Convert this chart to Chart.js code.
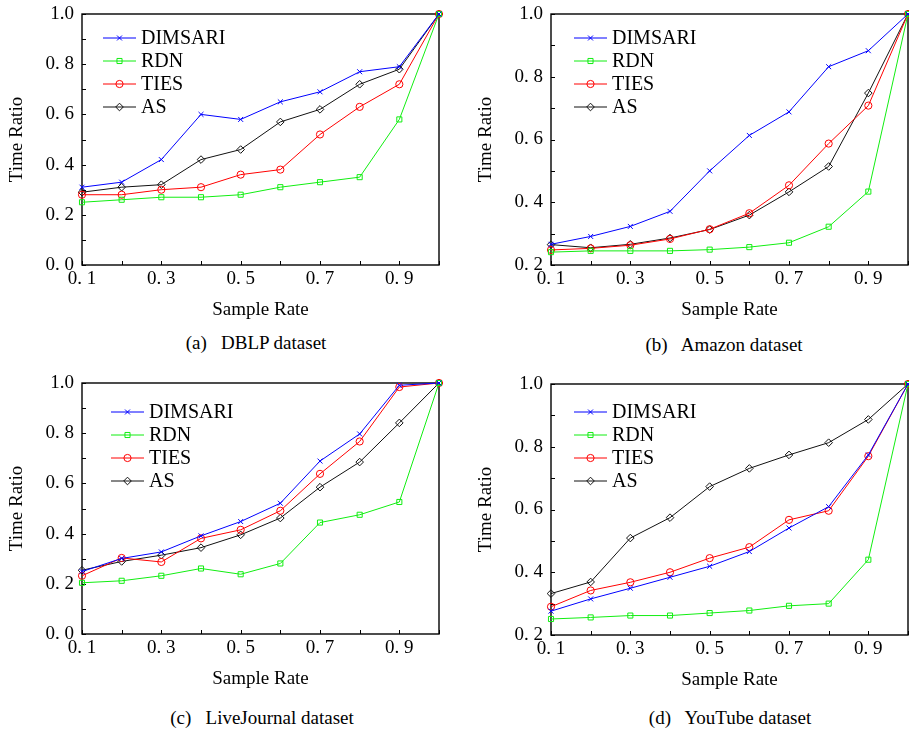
<!DOCTYPE html>
<html>
<head>
<meta charset="utf-8">
<title>Time Ratio vs Sample Rate</title>
<script src="https://cdn.jsdelivr.net/npm/chart.js@4.4.1/dist/chart.umd.min.js"></script>
<style>
  body { margin: 0; background: #fff; width: 909px; height: 730px; position: relative; overflow: hidden; font-family: "Liberation Serif", serif; }
  .panel { position: absolute; width: 455px; height: 325px; }
  .cap { position: absolute; font-size: 19px; line-height: 22px; white-space: pre; transform: translateX(-50%); color: #000; }
</style>
</head>
<body>
<div class="panel" style="left:0;top:0"><canvas id="chartA" width="455" height="325"></canvas></div>
<div class="panel" style="left:469px;top:0"><canvas id="chartB" width="455" height="325"></canvas></div>
<div class="panel" style="left:0;top:369px"><canvas id="chartC" width="455" height="325"></canvas></div>
<div class="panel" style="left:469px;top:370px"><canvas id="chartD" width="455" height="325"></canvas></div>
<div class="cap" style="left:256px;top:332px">(a)   DBLP dataset</div>
<div class="cap" style="left:724px;top:334px">(b)   Amazon dataset</div>
<div class="cap" style="left:262px;top:707px">(c)   LiveJournal dataset</div>
<div class="cap" style="left:730px;top:707px">(d)   YouTube dataset</div>
<script>
// sample rates on the x axis
const sampleRate = [0.1, 0.2, 0.3, 0.4, 0.5, 0.6, 0.7, 0.8, 0.9, 1.0];
const methods = ['DIMSARI', 'RDN', 'TIES', 'AS'];

// DBLP
const dblpDimsari = [0.31, 0.33, 0.42, 0.60, 0.58, 0.65, 0.69, 0.77, 0.79, 1.0];
const dblpRdn     = [0.25, 0.26, 0.27, 0.27, 0.28, 0.31, 0.33, 0.35, 0.58, 1.0];
const dblpTies    = [0.28, 0.28, 0.30, 0.31, 0.36, 0.38, 0.52, 0.63, 0.72, 1.0];
const dblpAs      = [0.29, 0.31, 0.32, 0.42, 0.46, 0.57, 0.62, 0.72, 0.78, 1.0];

// Amazon
const amazonDimsari = [0.266, 0.291, 0.323, 0.371, 0.500, 0.613, 0.688, 0.832, 0.883, 1.0];
const amazonRdn     = [0.241, 0.245, 0.245, 0.245, 0.249, 0.257, 0.271, 0.322, 0.434, 1.0];
const amazonTies    = [0.248, 0.253, 0.263, 0.283, 0.314, 0.365, 0.454, 0.587, 0.708, 1.0];
const amazonAs      = [0.265, 0.255, 0.266, 0.286, 0.313, 0.359, 0.433, 0.514, 0.748, 1.0];

// LiveJournal
const ljDimsari = [0.249, 0.301, 0.327, 0.391, 0.448, 0.521, 0.689, 0.797, 0.991, 1.0];
const ljRdn     = [0.204, 0.212, 0.232, 0.261, 0.238, 0.281, 0.444, 0.475, 0.526, 1.0];
const ljTies    = [0.232, 0.303, 0.287, 0.381, 0.415, 0.491, 0.638, 0.767, 0.984, 1.0];
const ljAs      = [0.254, 0.289, 0.314, 0.344, 0.395, 0.462, 0.585, 0.685, 0.841, 1.0];

// YouTube
const ytDimsari = [0.276, 0.315, 0.349, 0.384, 0.419, 0.466, 0.541, 0.609, 0.774, 1.0];
const ytRdn     = [0.251, 0.256, 0.262, 0.262, 0.270, 0.278, 0.293, 0.300, 0.440, 1.0];
const ytTies    = [0.290, 0.342, 0.368, 0.400, 0.445, 0.480, 0.567, 0.596, 0.770, 1.0];
const ytAs      = [0.332, 0.369, 0.509, 0.574, 0.673, 0.731, 0.774, 0.813, 0.887, 1.0];

// tick labels
const xLabelVals = [0.1, 0.3, 0.5, 0.7, 0.9];
const xLabelText = ['0. 1', '0. 3', '0. 5', '0. 7', '0. 9'];
const yLabelVals = [0.0, 0.2, 0.4, 0.6, 0.8, 1.0];
const yLabelText = ['0. 0', '0. 2', '0. 4', '0. 6', '0. 8', '1.0'];

const FONT = { family: '"Liberation Serif", serif', size: 19 };
Chart.defaults.font.family = FONT.family;
Chart.defaults.color = '#000';

const styles = [
  { color: '#0000ff', pointStyle: 'crossRot', radius: 3.5 },
  { color: '#11ee11', pointStyle: 'rect', radius: 3.6 },
  { color: '#ff0000', pointStyle: 'circle', radius: 3.6 },
  { color: '#111111', pointStyle: 'rectRot', radius: 3.8 }
];

function findLabel(vals, texts, v) {
  const i = vals.findIndex(t => Math.abs(t - v) < 1e-6);
  return i >= 0 ? texts[i] : '';
}

// box around the plot plus short inward tick marks every 0.1
const framePlugin = {
  id: 'frame',
  beforeDatasetsDraw(chart) {
    const { ctx, chartArea: a, scales } = chart;
    ctx.save();
    ctx.strokeStyle = '#000';
    ctx.lineWidth = 1.4;
    ctx.strokeRect(a.left, a.top, a.right - a.left, a.bottom - a.top);
    ctx.lineWidth = 1;
    ctx.beginPath();
    scales.x.ticks.forEach(t => {
      const px = Math.round(scales.x.getPixelForValue(t.value)) + 0.5;
      ctx.moveTo(px, a.bottom);
      ctx.lineTo(px, a.bottom - 4);
    });
    scales.y.ticks.forEach(t => {
      const py = Math.round(scales.y.getPixelForValue(t.value)) + 0.5;
      ctx.moveTo(a.left, py);
      ctx.lineTo(a.left + 4, py);
    });
    ctx.stroke();
    ctx.restore();
  }
};

// legend drawn inside the plot, upper left
const innerLegend = {
  id: 'innerLegend',
  afterDatasetsDraw(chart, args, opts) {
    const { ctx, chartArea: a } = chart;
    const x0 = a.left + opts.x;
    ctx.save();
    ctx.font = '20px ' + FONT.family;
    ctx.textBaseline = 'middle';
    ctx.textAlign = 'left';
    chart.data.datasets.forEach((ds, i) => {
      const y = a.top + opts.y + i * 23;
      ctx.strokeStyle = ds.borderColor;
      ctx.lineWidth = 1;
      ctx.beginPath();
      ctx.moveTo(x0, y);
      ctx.lineTo(x0 + 33, y);
      ctx.stroke();
      ctx.fillStyle = 'rgba(0,0,0,0)';
      Chart.helpers.drawPoint(ctx, { pointStyle: ds.pointStyle, radius: ds.pointRadius, borderWidth: 1 }, x0 + 16.5, y);
      ctx.fillStyle = '#000';
      ctx.fillText(ds.label, x0 + 38, y + 1);
    });
    ctx.restore();
  }
};

function makeChart(id, series, yMin, legendAt) {
  const datasets = series.map((vals, i) => ({
    label: methods[i],
    data: sampleRate.map((x, k) => ({ x: x, y: vals[k] })),
    borderColor: styles[i].color,
    backgroundColor: 'rgba(0,0,0,0)',
    pointBackgroundColor: 'rgba(0,0,0,0)',
    pointBorderColor: styles[i].color,
    pointStyle: styles[i].pointStyle,
    pointRadius: styles[i].radius,
    pointBorderWidth: 1,
    borderWidth: 1,
    tension: 0,
    clip: false
  }));

  return new Chart(document.getElementById(id), {
    type: 'line',
    data: { datasets: datasets },
    options: {
      responsive: false,
      animation: false,
      events: [],
      layout: { padding: { top: 14, right: 16, left: 0, bottom: 0 } },
      plugins: {
        legend: { display: false },
        tooltip: { enabled: false },
        innerLegend: legendAt
      },
      scales: {
        x: {
          type: 'linear',
          min: 0.1,
          max: 1.0,
          grid: { display: false, drawTicks: false },
          border: { display: false },
          ticks: {
            stepSize: 0.1,
            autoSkip: false,
            maxRotation: 0,
            padding: 3,
            font: FONT,
            color: '#000',
            callback: v => findLabel(xLabelVals, xLabelText, v)
          },
          title: { display: true, text: 'Sample Rate', font: FONT, color: '#000', padding: { top: 0, bottom: 4 } },
          afterFit(s) { s.height = 60; s.paddingLeft = 0; s.paddingRight = 0; }
        },
        y: {
          min: yMin,
          max: 1.0,
          grid: { display: false, drawTicks: false },
          border: { display: false },
          ticks: {
            stepSize: 0.1,
            autoSkip: false,
            padding: 8,
            font: FONT,
            color: '#000',
            callback: v => findLabel(yLabelVals, yLabelText, v)
          },
          title: { display: true, text: 'Time Ratio', font: FONT, color: '#000', padding: { top: 6, bottom: 0 } },
          afterFit(s) { s.width = 82; s.paddingTop = 0; s.paddingBottom = 0; }
        }
      }
    },
    plugins: [framePlugin, innerLegend]
  });
}

makeChart('chartA', [dblpDimsari, dblpRdn, dblpTies, dblpAs], 0.0, { x: 21, y: 24 });
makeChart('chartB', [amazonDimsari, amazonRdn, amazonTies, amazonAs], 0.2, { x: 23, y: 24 });
makeChart('chartC', [ljDimsari, ljRdn, ljTies, ljAs], 0.0, { x: 29, y: 29 });
makeChart('chartD', [ytDimsari, ytRdn, ytTies, ytAs], 0.2, { x: 23, y: 28 });
</script>
</body>
</html>
